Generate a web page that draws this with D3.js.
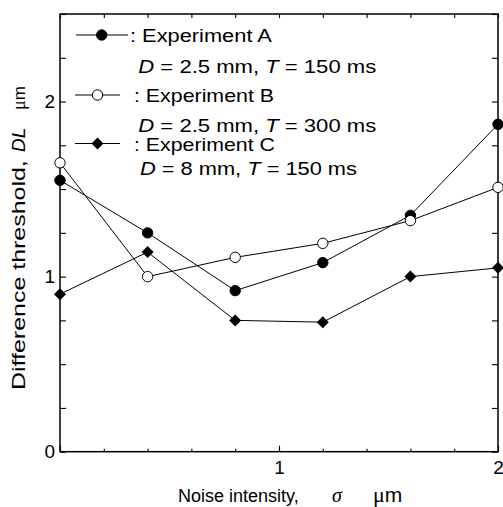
<!DOCTYPE html>
<html><head><meta charset="utf-8">
<script src="https://cdn.jsdelivr.net/npm/d3@7"></script>
<style>
body{margin:0;background:#fff;}
svg{display:block;}
text{font-family:"Liberation Sans",Arial,sans-serif;fill:#000;}
</style></head>
<body>
<script>
const noise = [0, 0.4, 0.8, 1.2, 1.6, 2.0];
const expA = [1.55, 1.25, 0.92, 1.08, 1.35, 1.87];
const expB = [1.65, 1.00, 1.11, 1.19, 1.32, 1.51];
const expC = [0.90, 1.14, 0.75, 0.74, 1.00, 1.05];
const xTickLabels = [1, 2];
const yTickLabels = [0, 1, 2];
const seriesNames = ["Experiment A", "Experiment B", "Experiment C"];
const seriesCond = [["2.5", "150"], ["2.5", "300"], ["8", "150"]];

const W = 503, H = 507;
const L = 60, R = 498, T = 14, B = 451.7;
const svg = d3.select("body").append("svg").attr("width", W).attr("height", H);
const x = d3.scaleLinear().domain([0, 2]).range([L, R]);
const y = d3.scaleLinear().domain([0, 2.5]).range([B, T]);

const xMinor = d3.range(0, 2.0001, 0.2).map(v => +v.toFixed(2));
const yMinor = d3.range(0, 2.5001, 0.25);

function noLab(){ return ""; }
svg.append("g").attr("transform", `translate(0,${B})`)
  .call(d3.axisBottom(x).tickValues(xMinor).tickSize(-3).tickFormat(noLab));
svg.append("g").attr("transform", `translate(0,${B})`)
  .call(d3.axisBottom(x).tickValues([0,1,2]).tickSize(-6).tickPadding(9)
    .tickFormat(d => xTickLabels.includes(d) ? d : ""));
svg.append("g").attr("transform", `translate(0,${T})`)
  .call(d3.axisTop(x).tickValues(xMinor).tickSize(-4).tickFormat(noLab));
svg.append("g").attr("transform", `translate(${L},0)`)
  .call(d3.axisLeft(y).tickValues(yMinor).tickSize(-6).tickPadding(5)
    .tickFormat(d => yTickLabels.includes(d) ? d : ""));
svg.append("g").attr("transform", `translate(${R},0)`)
  .call(d3.axisRight(y).tickValues(yMinor).tickSize(-6).tickFormat(noLab));
svg.selectAll(".domain").remove();
svg.selectAll(".tick line").attr("stroke", "#000").attr("stroke-width", 1.1);
svg.selectAll(".tick text").attr("font-size", 19).attr("font-family", "Liberation Sans, Arial, sans-serif").attr("fill", "#000");

svg.append("rect").attr("x", L).attr("y", T).attr("width", R - L).attr("height", B - T)
  .attr("fill", "none").attr("stroke", "#000").attr("stroke-width", 1.5);

const line = d3.line().x((d, i) => x(noise[i])).y(d => y(d));
const diamond = s => `M0,${-s}L${s},0L0,${s}L${-s},0Z`;

function drawMarker(g, cx, cy, kind) {
  if (kind === "diamond") {
    g.append("path").attr("d", diamond(6)).attr("transform", `translate(${cx},${cy})`)
      .attr("fill", "#000");
  } else {
    g.append("circle").attr("cx", cx).attr("cy", cy).attr("r", 5.2)
      .attr("fill", kind === "filled" ? "#000" : "#fff").attr("stroke", "#000").attr("stroke-width", 1);
  }
}
function drawSeries(vals, kind) {
  svg.append("path").datum(vals).attr("d", line).attr("fill", "none")
    .attr("stroke", "#000").attr("stroke-width", 1);
  const g = svg.append("g");
  vals.forEach((v, i) => drawMarker(g, x(noise[i]), y(v), kind));
}
drawSeries(expA, "filled");
drawSeries(expB, "open");
drawSeries(expC, "diamond");

// stretch a text group to a target width by scaling glyphs
function fitText(g, tx, ty, target, sy, rot) {
  const w = g.select("text").node().getComputedTextLength();
  const sx = target / w;
  g.attr("transform", `translate(${tx},${ty})${rot ? " rotate(-90)" : ""} scale(${sx},${sy})`);
}

// legend
const kinds = ["filled", "open", "diamond"];
const legRows = [
  {ly: 35, x1: 76, x2: 128, mx: 101.7, tx: 130, tb: 41.5, tw: 142, sx: 138.3, sb: 73, sw: 238},
  {ly: 95, x1: 75, x2: 120, mx: 97.5, tx: 134, tb: 101.7, tw: 140, sx: 138.3, sb: 132, sw: 238},
  {ly: 143.5, x1: 75, x2: 120, mx: 97.5, tx: 134, tb: 150.5, tw: 141, sx: 140, sb: 174.5, sw: 217}
];
const legFont = 18, legSy = 0.97;
legRows.forEach((r, i) => {
  svg.append("line").attr("x1", r.x1).attr("x2", r.x2).attr("y1", r.ly).attr("y2", r.ly)
    .attr("stroke", "#000").attr("stroke-width", 1);
  drawMarker(svg, r.mx, r.ly, kinds[i]);
  const g1 = svg.append("g");
  g1.append("text").attr("font-size", legFont).text(": " + seriesNames[i]);
  fitText(g1, r.tx, r.tb, r.tw, legSy);
  const g2 = svg.append("g");
  const t = g2.append("text").attr("font-size", legFont);
  t.append("tspan").attr("font-style", "italic").text("D");
  t.append("tspan").text(` = ${seriesCond[i][0]} mm, `);
  t.append("tspan").attr("font-style", "italic").text("T");
  t.append("tspan").text(` = ${seriesCond[i][1]} ms`);
  fitText(g2, r.sx, r.sb, r.sw, legSy);
});

// x title
const xt = svg.append("text").attr("y", 501.5).attr("font-size", 18);
xt.append("tspan").attr("x", 178).text("Noise intensity,");
xt.append("tspan").attr("x", 332).attr("font-family", "Liberation Serif, serif").attr("font-style", "italic").attr("font-size", 20).text("σ");
xt.append("tspan").attr("x", 373).attr("font-family", "Liberation Serif, serif").attr("font-size", 22).text("μ");
xt.append("tspan").attr("font-size", 21).text("m");

// y title (rotated)
const yg1 = svg.append("g");
yg1.append("text").attr("font-size", 19).text("Difference threshold,");
fitText(yg1, 25, 390, 230, 1, true);
const yg = svg.append("g").attr("transform", "translate(25,0) rotate(-90)");
yg.append("text").attr("x", -152).attr("font-size", 19).attr("font-style", "italic").text("DL");
const ym = yg.append("text").attr("x", -110);
ym.append("tspan").attr("font-family", "Liberation Serif, serif").attr("font-size", 18).text("μ");
ym.append("tspan").attr("font-size", 17).text("m");
</script>
</body></html>
